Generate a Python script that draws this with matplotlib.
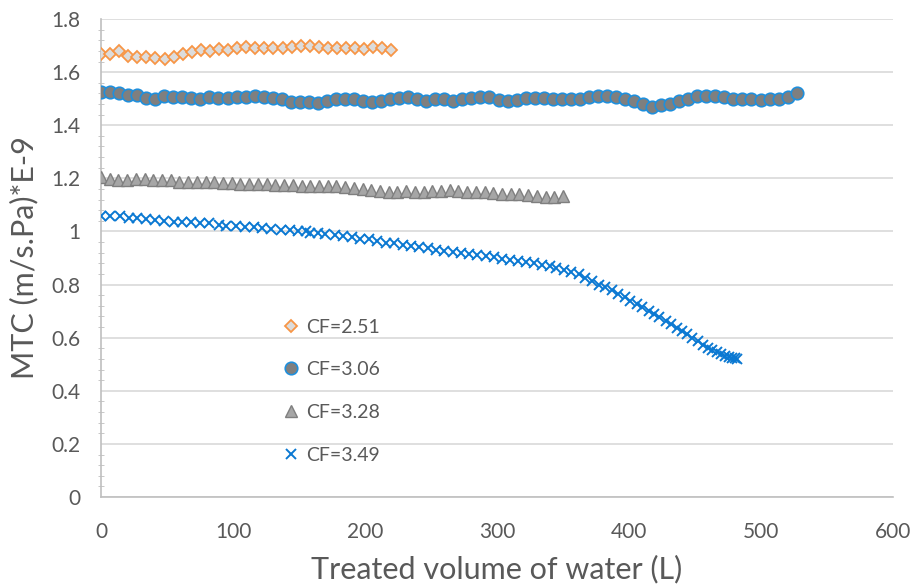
import numpy as np
import matplotlib
matplotlib.use("Agg")
import matplotlib.pyplot as plt
from matplotlib.ticker import MultipleLocator, FuncFormatter

plt.rcParams['font.family'] = ['Lato', 'DejaVu Sans']

labels = ["CF=2.51", "CF=3.06", "CF=3.28", "CF=3.49"]

# CF=2.51 (diamonds), 0 .. 220 L
dia_end = 220
dia_y = [1.668, 1.668, 1.680, 1.662, 1.658, 1.658, 1.652, 1.648, 1.658, 1.667,
         1.675, 1.683, 1.679, 1.686, 1.684, 1.692, 1.696, 1.692, 1.689, 1.689,
         1.690, 1.694, 1.698, 1.699, 1.696, 1.692, 1.690, 1.690, 1.689, 1.686,
         1.696, 1.692, 1.683]

# CF=3.06 (circles), 0 .. 527 L
circ_end = 527
circ_y = [1.524, 1.526, 1.520, 1.514, 1.514, 1.501, 1.498, 1.510, 1.505, 1.507,
          1.504, 1.498, 1.507, 1.503, 1.503, 1.507, 1.507, 1.511, 1.505, 1.501,
          1.497, 1.486, 1.486, 1.486, 1.482, 1.490, 1.497, 1.498, 1.497, 1.492,
          1.488, 1.493, 1.498, 1.503, 1.507, 1.498, 1.492, 1.498, 1.498, 1.492,
          1.498, 1.503, 1.507, 1.507, 1.495, 1.491, 1.495, 1.501, 1.503, 1.501,
          1.500, 1.500, 1.500, 1.500, 1.505, 1.510, 1.510, 1.505, 1.500, 1.490,
          1.480, 1.470, 1.478, 1.480, 1.490, 1.500, 1.510, 1.510, 1.510, 1.505,
          1.500, 1.500, 1.500, 1.495, 1.500, 1.500, 1.505, 1.520]

# CF=3.28 (triangles), 0 .. 350 L
tri_end = 350
tri_y = [1.205, 1.198, 1.195, 1.195, 1.197, 1.196, 1.195, 1.192, 1.192, 1.188,
         1.185, 1.186, 1.186, 1.188, 1.184, 1.182, 1.180, 1.178, 1.180, 1.178,
         1.176, 1.176, 1.175, 1.172, 1.172, 1.170, 1.172, 1.170, 1.168, 1.165,
         1.160, 1.155, 1.152, 1.150, 1.150, 1.152, 1.150, 1.150, 1.152, 1.152,
         1.155, 1.153, 1.150, 1.150, 1.148, 1.145, 1.142, 1.140, 1.140, 1.138,
         1.135, 1.128, 1.130, 1.135]

# CF=3.49 (crosses)
x_x = [0, 7, 14, 21, 27, 34, 41, 48, 55, 61, 68, 75, 82, 89, 95, 102, 109, 116,
       122, 129, 136, 143, 149, 155, 158, 164, 170, 177, 183, 190, 196, 203, 209,
       216, 222, 229, 235, 241, 248, 254, 260, 267, 273, 279, 285, 292, 298, 304,
       310, 316, 322, 328, 334, 340, 345, 351, 356, 362, 367, 372, 377, 382, 387,
       392, 397, 401, 406, 410, 415, 419, 423, 428, 432, 436, 440, 444, 448, 452,
       456, 460, 463, 467, 470, 473, 476, 478, 480, 482]
x_y = [1.060, 1.058, 1.058, 1.052, 1.050, 1.046, 1.043, 1.038, 1.036, 1.036,
       1.034, 1.032, 1.030, 1.026, 1.020, 1.020, 1.018, 1.015, 1.012, 1.010,
       1.006, 1.004, 1.000, 1.003, 0.993, 0.995, 0.990, 0.985, 0.982, 0.978,
       0.973, 0.970, 0.965, 0.958, 0.955, 0.950, 0.944, 0.940, 0.937, 0.932,
       0.928, 0.922, 0.918, 0.915, 0.910, 0.907, 0.902, 0.897, 0.893, 0.888,
       0.884, 0.880, 0.875, 0.869, 0.862, 0.855, 0.847, 0.838, 0.826, 0.813,
       0.800, 0.789, 0.778, 0.765, 0.752, 0.740, 0.727, 0.715, 0.700, 0.688,
       0.676, 0.662, 0.650, 0.638, 0.625, 0.612, 0.598, 0.586, 0.574, 0.562,
       0.553, 0.545, 0.538, 0.532, 0.528, 0.525, 0.523, 0.520]

dia_x = np.linspace(0, dia_end, len(dia_y))
circ_x = np.linspace(0, circ_end, len(circ_y))
tri_x = np.linspace(0, tri_end, len(tri_y))

txt = '#595959'
fig = plt.figure(figsize=(9.21, 5.85), dpi=100)
ax = fig.add_axes([0.1097, 0.1504, 0.8599, 0.8171])

ax.plot(dia_x, dia_y, ls='none', marker='D', ms=6.5, mfc='#dcdcdc',
        mec='#f79646', mew=1.3, label=labels[0], zorder=3)
ax.plot(circ_x, circ_y, ls='none', marker='o', ms=9, mfc='#7f7f7f',
        mec='#1f8fdc', mew=1.2, label=labels[1], zorder=3)
ax.plot(tri_x, tri_y, ls='none', marker='^', ms=8.5, mfc='#a6a6a6',
        mec='#7f7f7f', mew=1.0, label=labels[2], zorder=3)
ax.plot(x_x, x_y, ls='none', marker='x', ms=7.5, color='#0a78d2',
        mew=1.4, label=labels[3], zorder=3)

ax.set_xlim(0, 600)
ax.set_ylim(0, 1.8)
ax.xaxis.set_major_locator(MultipleLocator(100))
ax.yaxis.set_major_locator(MultipleLocator(0.2))
ax.yaxis.set_minor_locator(MultipleLocator(0.04))
ax.yaxis.set_major_formatter(FuncFormatter(lambda v, p: '%g' % round(v, 2)))
ax.grid(axis='y', which='major', color='#d9d9d9', lw=1.2)
ax.set_axisbelow(True)

for s in ['top', 'right']:
    ax.spines[s].set_visible(False)
for s in ['left', 'bottom']:
    ax.spines[s].set_color('#bfbfbf')
    ax.spines[s].set_linewidth(1.2)

ax.tick_params(axis='y', which='major', length=0, labelsize=15, colors=txt, pad=15)
ax.tick_params(axis='y', which='minor', length=5, direction='inout', color='#bfbfbf')
ax.tick_params(axis='x', which='major', length=0, labelsize=15, colors=txt, pad=18)

ax.set_xlabel('Treated volume of water (L)', fontsize=22, color=txt, labelpad=9)
ax.set_ylabel('MTC (m/s.Pa)*E-9', fontsize=22, color=txt, labelpad=9)

leg = ax.legend(loc='upper left', bbox_to_anchor=(0.21, 0.41), frameon=False,
                fontsize=14, labelspacing=1.32, handlelength=0.6,
                handletextpad=0.5, labelcolor=txt)

fig.savefig('out.png', dpi=100)
